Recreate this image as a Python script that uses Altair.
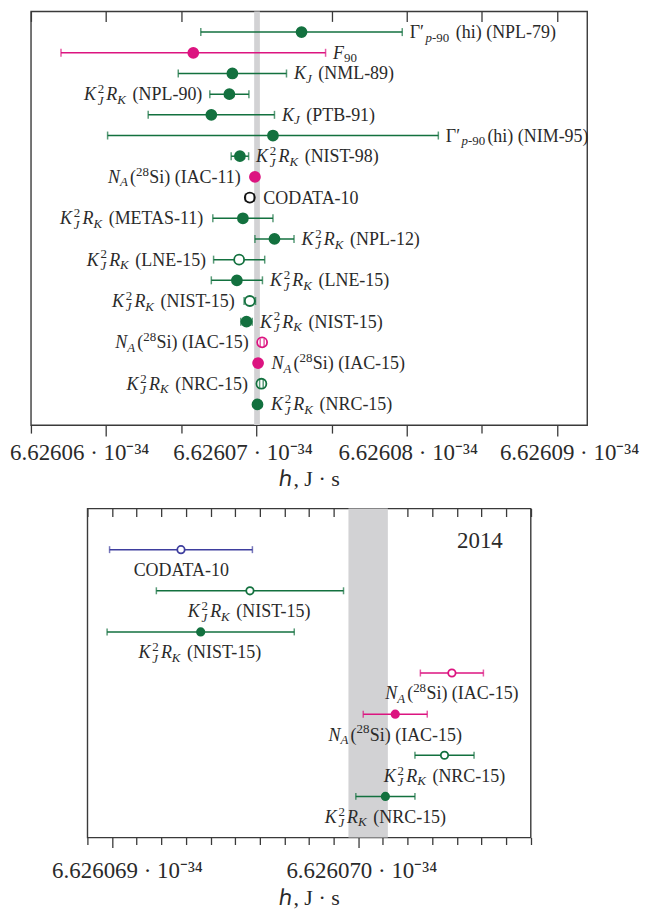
import altair as alt
import pandas as pd

FONT = "Liberation Serif"
GREEN = "#13713f"
MAGENTA = "#dc1480"
BLACK = "#111111"
BLUE = "#3e3e9e"
BAND = "#d2d2d4"
FRAME = "#3a3a3a"
TEXT = "#2a2a2a"

# ---------------- top panel (h in units of 1e-34 J s) ----------------
top_labels = [
    "Γ′_{*p*-90} (hi) (NPL-79)",
    "*F*_{90}",
    "*K*_{*J*} (NML-89)",
    "*K*^{2}_{*J*}*R*_{*K*} (NPL-90)",
    "*K*_{*J*} (PTB-91)",
    "Γ′_{*p*-90}(hi) (NIM-95)",
    "*K*^{2}_{*J*}*R*_{*K*} (NIST-98)",
    "*N*_{*A*}(^{28}Si) (IAC-11)",
    "CODATA-10",
    "*K*^{2}_{*J*}*R*_{*K*} (METAS-11)",
    "*K*^{2}_{*J*}*R*_{*K*} (NPL-12)",
    "*K*^{2}_{*J*}*R*_{*K*} (LNE-15)",
    "*K*^{2}_{*J*}*R*_{*K*} (LNE-15)",
    "*K*^{2}_{*J*}*R*_{*K*} (NIST-15)",
    "*K*^{2}_{*J*}*R*_{*K*} (NIST-15)",
    "*N*_{*A*}(^{28}Si) (IAC-15)",
    "*N*_{*A*}(^{28}Si) (IAC-15)",
    "*K*^{2}_{*J*}*R*_{*K*} (NRC-15)",
    "*K*^{2}_{*J*}*R*_{*K*} (NRC-15)",
]
top_h = [6.6260730, 6.6260658, 6.6260684, 6.6260682, 6.6260670, 6.6260711,
         6.6260689, 6.6260699, 6.62606956, 6.6260691, 6.6260712, 6.62606885,
         6.6260687, 6.62606956, 6.62606934, 6.62607038, 6.62607011,
         6.62607033, 6.62607007]
top_err = [6.7e-6, 8.8e-6, 3.6e-6, 1.3e-6, 4.2e-6, 11.0e-6, 0.58e-6, 0.20e-6,
           0.29e-6, 2.0e-6, 1.3e-6, 1.7e-6, 1.7e-6, 0.38e-6, 0.38e-6, 0.13e-6,
           0.13e-6, 0.12e-6, 0.12e-6]
top_kind = ["electrical", "atomic", "electrical", "electrical", "electrical",
            "electrical", "electrical", "atomic", "CODATA", "electrical",
            "electrical", "electrical", "electrical", "electrical", "electrical",
            "atomic", "atomic", "electrical", "electrical"]
top_open = [False, False, False, False, False, False, False, False, True, False,
            False, True, False, True, False, True, False, True, False]
top_side = ["right", "right", "right", "left", "right", "right", "right", "left",
            "right", "left", "right", "left", "right", "left", "right", "left",
            "right", "left", "right"]
top_band = [6.62606985, 6.62607023]
top_major = [6.62606, 6.62607, 6.62608, 6.62609]
top_minor = [6.626055, 6.626065, 6.626075, 6.626085]

# ---------------- bottom panel ----------------
bot_labels = [
    "CODATA-10",
    "*K*^{2}_{*J*}*R*_{*K*} (NIST-15)",
    "*K*^{2}_{*J*}*R*_{*K*} (NIST-15)",
    "*N*_{*A*}(^{28}Si) (IAC-15)",
    "*N*_{*A*}(^{28}Si) (IAC-15)",
    "*K*^{2}_{*J*}*R*_{*K*} (NRC-15)",
    "*K*^{2}_{*J*}*R*_{*K*} (NRC-15)",
]
bot_h = [6.62606928, 6.62606956, 6.62606936, 6.62607038, 6.62607015,
         6.62607035, 6.62607011]
bot_err = [0.29e-6, 0.38e-6, 0.38e-6, 0.128e-6, 0.13e-6, 0.12e-6, 0.12e-6]
bot_kind = ["CODATA", "electrical", "electrical", "atomic", "atomic",
            "electrical", "electrical"]
bot_open = [True, True, False, True, False, True, False]
bot_side = ["below"] * 7
bot_band = [6.62606996, 6.62607012]
bot_major = [6.626069, 6.626070]
bot_minor = [round(6.6260689 + k * 1e-7, 8) for k in range(19)]
bot_minor = [v for v in bot_minor if all(abs(v - m) > 1e-9 for m in bot_major)]

# ---------------- rich-label layout (Times / Liberation Serif metrics) ----------------
W_R = {" ": 0.25, "(": 0.333, ")": 0.333, "-": 0.333, ".": 0.25, "A": 0.722,
       "C": 0.667, "D": 0.722, "E": 0.611, "I": 0.333, "K": 0.722, "L": 0.611,
       "M": 0.889, "N": 0.722, "P": 0.556, "R": 0.667, "S": 0.556, "T": 0.611,
       "h": 0.5, "i": 0.278, "p": 0.5, "Γ": 0.578, "′": 0.3}
W_I = {"K": 0.667, "J": 0.444, "R": 0.611, "N": 0.667, "A": 0.611, "F": 0.611,
       "p": 0.5}
SCRIPT = 0.72


def text_width(s, italic):
    tab = W_I if italic else W_R
    return sum(0.5 if ch.isdigit() else tab.get(ch, W_R.get(ch, 0.5)) for ch in s)


def layout_label(markup, fs):
    segs = []

    def push(text, it, size, shift, x):
        lead = len(text) - len(text.lstrip(" "))
        body = text.strip(" ")
        if body:
            segs.append((body, it, size, shift, x + lead * W_R[" "] * size))
        return x + text_width(text, it) * size

    x, i, italic, cur, last_italic = 0.0, 0, False, "", False
    while i < len(markup):
        c = markup[i]
        if c == "*":
            if cur:
                x = push(cur, italic, fs, 0.0, x)
                last_italic = italic
                cur = ""
            italic = not italic
            i += 1
        elif c in "^_":
            if cur:
                x = push(cur, italic, fs, 0.0, x)
                last_italic = italic
                cur = ""
            scripts = {}
            while i < len(markup) and markup[i] in "^_":
                j = markup.index("}", i)
                scripts[markup[i]] = markup[i + 2:j]
                i = j + 1
            stacked = len(scripts) == 2
            gap = 0.1 * fs if ("^" in scripts and last_italic) else 0.0
            x0 = x + gap
            wmax = 0.0
            for kind, body in scripts.items():
                shift = -0.40 * fs if kind == "^" else (0.25 if stacked else 0.2) * fs
                xx, sit, run = x0, False, ""
                for ch in body + "\0":
                    if ch in "*\0":
                        if run:
                            xx = push(run, sit, fs * SCRIPT, shift, xx)
                            run = ""
                        sit = not sit
                    else:
                        run += ch
                wmax = max(wmax, xx - x0)
            x = x0 + wmax + (0.12 if "_" in scripts else 0.02) * fs
            last_italic = False
        else:
            cur += c
            i += 1
    if cur:
        x = push(cur, italic, fs, 0.0, x)
    return segs, x


def build_tables(labels, hs, errs, kinds, opens, sides, ppu, fs, dy_side, dy_below):
    pts = pd.DataFrame({"h": hs, "err": errs, "kind": kinds, "open": opens,
                        "row": list(range(len(hs)))})
    pts["lo"] = pts["h"] - pts["err"]
    pts["hi"] = pts["h"] + pts["err"]
    rows = []
    for r, (lab, h, e, side) in enumerate(zip(labels, hs, errs, sides)):
        segs, total = layout_label(lab, fs)
        reach = max(e * ppu, 6.0) + 7.5
        if side == "right":
            start, base = reach, dy_side
        elif side == "left":
            start, base = -reach - total, dy_side
        else:
            start, base = -total / 2.0, dy_below
        for (t, it, size, shift, sx) in segs:
            rows.append({"h": h, "row": r, "t": t, "dx": start + sx,
                         "dy": base + shift, "fs": size,
                         "st": "italic" if it else "normal"})
    return pts, pd.DataFrame(rows)


def panel(pts, txt, band, dom, W, H, ydom, major, minor, fmt, off_expr, colors,
          tick_major, tick_minor, top_tick, label_pad, title_pad, msize, cap):
    xs = alt.Scale(domain=dom, nice=False, zero=False)
    ys = alt.Scale(domain=ydom, reverse=True, nice=False, zero=False)
    col = alt.Scale(domain=list(colors.keys()), range=list(colors.values()))

    ax_major = alt.Axis(values=major, orient="bottom", tickSize=tick_major,
                        labelExpr="format(datum.value, '" + fmt + "') + ' · 10⁻³⁴'",
                        labelOffset=alt.ExprRef(off_expr), labelPadding=label_pad,
                        labelFontSize=23, labelFont=FONT, labelColor=TEXT,
                        labelFlush=False, labelOverlap=False, domain=False,
                        grid=False, tickColor=FRAME, tickWidth=1.3,
                        title="ℎ, J · s", titleFont=FONT, titleFontSize=22,
                        titleFontWeight="normal", titleColor=TEXT,
                        titlePadding=title_pad)
    ax_minor = alt.Axis(values=minor, orient="bottom", tickSize=tick_minor,
                        labels=False, domain=False, grid=False, tickColor=FRAME,
                        tickWidth=1.3, title=None)
    ax_top = alt.Axis(values=major + minor, orient="top", offset=-top_tick,
                      tickSize=top_tick, labels=False, domain=False, grid=False,
                      tickColor=FRAME, tickWidth=1.3, title=None)

    band_df = pd.DataFrame({"lo": [band[0]], "hi": [band[1]]})
    band_l = alt.Chart(band_df).mark_rect(color=BAND).encode(
        x=alt.X("lo:Q", scale=xs, axis=ax_major), x2="hi:Q")

    y_enc = alt.Y("row:Q", scale=ys, axis=None)
    rule = alt.Chart(pts).mark_rule(strokeWidth=1.5).encode(
        x=alt.X("lo:Q", scale=xs, axis=ax_minor), x2="hi:Q", y=y_enc,
        color=alt.Color("kind:N", scale=col, legend=None))
    pt = alt.Chart(pts).mark_circle(size=msize, strokeWidth=1.8, opacity=1).encode(
        x=alt.X("h:Q", scale=xs, axis=ax_top), y=y_enc,
        stroke=alt.Stroke("kind:N", scale=col, legend=None),
        fill=alt.condition("datum.open", alt.value("white"),
                           alt.Fill("kind:N", scale=col, legend=None)))
    cap_lo = alt.Chart(pts).mark_tick(orient="vertical", size=cap, thickness=1.5).encode(
        x=alt.X("lo:Q", scale=xs, axis=None), y=y_enc,
        color=alt.Color("kind:N", scale=col, legend=None))
    cap_hi = alt.Chart(pts).mark_tick(orient="vertical", size=cap, thickness=1.5).encode(
        x=alt.X("hi:Q", scale=xs, axis=None), y=y_enc,
        color=alt.Color("kind:N", scale=col, legend=None))
    txt_l = alt.Chart(txt).mark_text(
        align="left", baseline="alphabetic", font=FONT, color=TEXT,
        dx=alt.ExprRef("datum.dx"), dy=alt.ExprRef("datum.dy"),
        fontStyle=alt.ExprRef("datum.st")).encode(
        x=alt.X("h:Q", scale=xs, axis=None), y=y_enc, text="t:N",
        size=alt.Size("fs:Q", scale=None))
    return alt.layer(band_l, rule, pt, cap_lo, cap_hi, txt_l).resolve_axis(
        x="independent").properties(width=W, height=H)


FS = 18
TOP_DOM = [6.626055, 6.626092]
TOP_W, TOP_H = 558, 415
BOT_DOM = [6.6260689, 6.6260707]
BOT_W, BOT_H = 444.7, 330

top_pts, top_txt = build_tables(top_labels, top_h, top_err, top_kind, top_open,
                                top_side, TOP_W / (TOP_DOM[1] - TOP_DOM[0]), FS,
                                6.0, 26.5)
bot_pts, bot_txt = build_tables(bot_labels, bot_h, bot_err, bot_kind, bot_open,
                                bot_side, BOT_W / (BOT_DOM[1] - BOT_DOM[0]), FS,
                                6.0, 26.5)

top = panel(top_pts, top_txt, top_band, TOP_DOM, TOP_W, TOP_H, [-1, 19],
            top_major, top_minor, ".5f",
            "datum.value < 6.626065 ? -27 : datum.value < 6.626075 ? -14 : datum.value < 6.626085 ? 1 : 12",
            {"electrical": GREEN, "atomic": MAGENTA, "CODATA": BLACK},
            11, 8, 10, 5, 5, 100, 8)
bot = panel(bot_pts, bot_txt, bot_band, BOT_DOM, BOT_W, BOT_H, [-1, 7],
            bot_major, bot_minor, ".6f",
            "datum.value < 6.6260695 ? 15 : 3",
            {"electrical": GREEN, "atomic": MAGENTA, "CODATA": BLUE},
            10, 7, 8, 12, 5, 55, 7).properties(
    title=alt.TitleParams("2014", anchor="end", frame="group", orient="top",
                          baseline="alphabetic", offset=0, dx=-28, dy=63,
                          fontSize=23, font=FONT, fontWeight="normal", color=TEXT))

chart = alt.vconcat(top, bot, spacing=83.7, center=True, bounds="flush").resolve_scale(
    color="independent", stroke="independent", fill="independent").properties(
    padding=0).configure_view(stroke=FRAME, strokeWidth=1.4)

chart.save("out.html", embed_options={"renderer": "svg", "actions": False})
